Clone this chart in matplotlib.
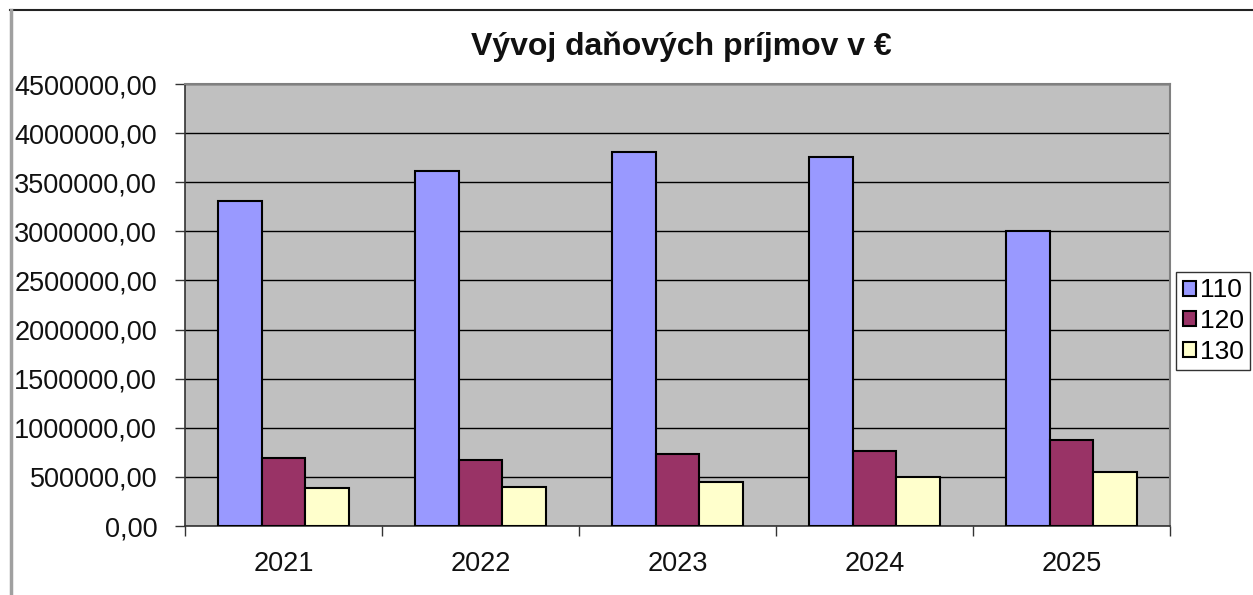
import numpy as np
import matplotlib
matplotlib.use("Agg")
import matplotlib.pyplot as plt
from matplotlib.lines import Line2D

plt.rcParams['font.family'] = ['Liberation Sans', 'DejaVu Sans']

years = ['2021', '2022', '2023', '2024', '2025']
series_names = ['110', '120', '130']
vals_110 = [3313000, 3611000, 3804000, 3760000, 3000000]
vals_120 = [688000, 671000, 729000, 762000, 878000]
vals_130 = [386000, 400000, 450000, 498000, 553000]
colors = ['#9999FF', '#993366', '#FFFFCC']

W, H = 1253, 595
fig = plt.figure(figsize=(W / 100, H / 100), dpi=100)
fig.patch.set_facecolor('white')

# plot area in pixel coords of the reference
left, right, top, bottom = 185, 1170, 84, 526
ax = fig.add_axes([left / W, (H - bottom) / H, (right - left) / W, (bottom - top) / H])
ax.set_facecolor('#C0C0C0')

x = np.arange(len(years))
w = 1 / 4.5
for i, (vals, name) in enumerate(zip([vals_110, vals_120, vals_130], series_names)):
    ax.bar(x + (i - 1) * w, vals, w, color=colors[i], edgecolor='black',
           linewidth=1.5, label=name, zorder=3)

ax.set_xlim(-0.5, len(years) - 0.5)
ax.set_ylim(0, 4500000)
yt = np.arange(0, 4500001, 500000)
ax.set_yticks(yt)
ax.set_yticklabels([f'{v:.2f}'.replace('.', ',') for v in yt], fontsize=19.5, color='#111111')
ax.yaxis.grid(True, color='black', linewidth=1, zorder=1)
ax.set_axisbelow(True)

ax.set_xticks(np.arange(-0.5, len(years), 1))
ax.set_xticklabels([])
ax.set_xticks(x, minor=True)
ax.set_xticklabels(years, minor=True, fontsize=19.5, color='#111111')
ax.tick_params(axis='x', which='minor', length=0, pad=18)
ax.tick_params(axis='x', which='major', length=7, width=1, color='#333333')
ax.tick_params(axis='y', length=7, width=1, color='#333333', pad=13)

for s in ['top', 'right']:
    ax.spines[s].set_color('#808080')
    ax.spines[s].set_linewidth(1.5)
for s in ['left', 'bottom']:
    ax.spines[s].set_color('#333333')
    ax.spines[s].set_linewidth(1.2)

fig.text(681 / W, 1 - 47 / H, 'Vývoj daňových príjmov v €', ha='center', va='center',
         fontsize=23, fontweight='bold', color='#111111')

leg = fig.legend(loc='center left', bbox_to_anchor=(1176 / W, 1 - 321 / H),
                 fontsize=19, frameon=True, fancybox=False, handlelength=0.5,
                 handleheight=0.5, handletextpad=0.15, labelspacing=0.25,
                 borderpad=0.25, borderaxespad=0)
leg.get_frame().set_edgecolor('black')
leg.get_frame().set_linewidth(1)

# outer chart border (only top and left visible in the crop)
fig.add_artist(Line2D([10 / W, 1], [1 - 9.5 / H, 1 - 9.5 / H], color='#222222', linewidth=1.5))
fig.add_artist(Line2D([11 / W, 11 / W], [0, 1 - 9.5 / H], color='#A0A0A0', linewidth=2.5))

fig.savefig('out.png', dpi=100)
